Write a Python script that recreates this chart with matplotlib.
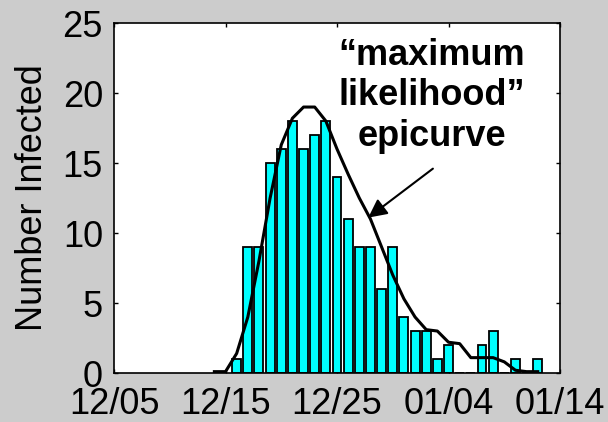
import numpy as np
import matplotlib
matplotlib.use("Agg")
import matplotlib.pyplot as plt

# days counted from 12/05
bar_days = np.arange(11, 39)
bar_counts = [1, 9, 9, 15, 16, 18, 16, 17, 18, 14, 11, 9, 9, 6, 9, 4, 3, 3, 1, 2,
              0, 0, 2, 3, 0, 1, 0, 1]

curve_days = np.arange(9, 39)
curve_vals = [0.1, 0.1, 1.4, 4.0, 8.0, 12.5, 16.3, 18.2, 19.0, 19.0, 18.0, 16.0,
              14.2, 12.5, 11.0, 9.0, 7.0, 5.3, 4.0, 3.1, 3.0, 2.2, 2.1, 1.1,
              1.1, 1.1, 0.8, 0.2, 0.1, 0.1]

tick_days = [0, 10, 20, 30, 40]
tick_labels = ["12/05", "12/15", "12/25", "01/04", "01/14"]

plt.rcParams["font.family"] = ["Liberation Sans", "DejaVu Sans"]

fig = plt.figure(figsize=(6.08, 4.22), dpi=100, facecolor="#cccccc")
ax = fig.add_axes([0.1875, 0.116, 0.7336, 0.8294])
ax.set_facecolor("white")

ax.bar(bar_days, bar_counts, width=0.8, color="#00ffff", edgecolor="black",
       linewidth=1.3, zorder=2)
ax.plot(curve_days, curve_vals, color="black", linewidth=2.2, zorder=3)

ax.set_xlim(0, 40)
ax.set_ylim(0, 25)
ax.set_xticks(tick_days)
ax.set_xticklabels(tick_labels)
ax.set_yticks([0, 5, 10, 15, 20, 25])
ax.tick_params(direction="in", length=3, width=1, top=True, right=True,
               labelsize=26, colors="black")
ax.tick_params(axis="x", pad=10)
ax.tick_params(axis="y", pad=8)
for s in ax.spines.values():
    s.set_linewidth(1.2)

ax.set_ylabel("Number Infected", fontsize=26, labelpad=9)

ax.text(28.5, 23.95, "\u201cmaximum\nlikelihood\u201d\nepicurve", ha="center",
        va="top", fontsize=26, fontweight="bold", linespacing=1.2)
ax.annotate("", xy=(22.8, 11.1), xytext=(28.6, 14.6),
            arrowprops=dict(arrowstyle="-|>", color="black", lw=1.5,
                            mutation_scale=28, shrinkA=0, shrinkB=0))

fig.savefig("out.png", dpi=100, facecolor=fig.get_facecolor())
